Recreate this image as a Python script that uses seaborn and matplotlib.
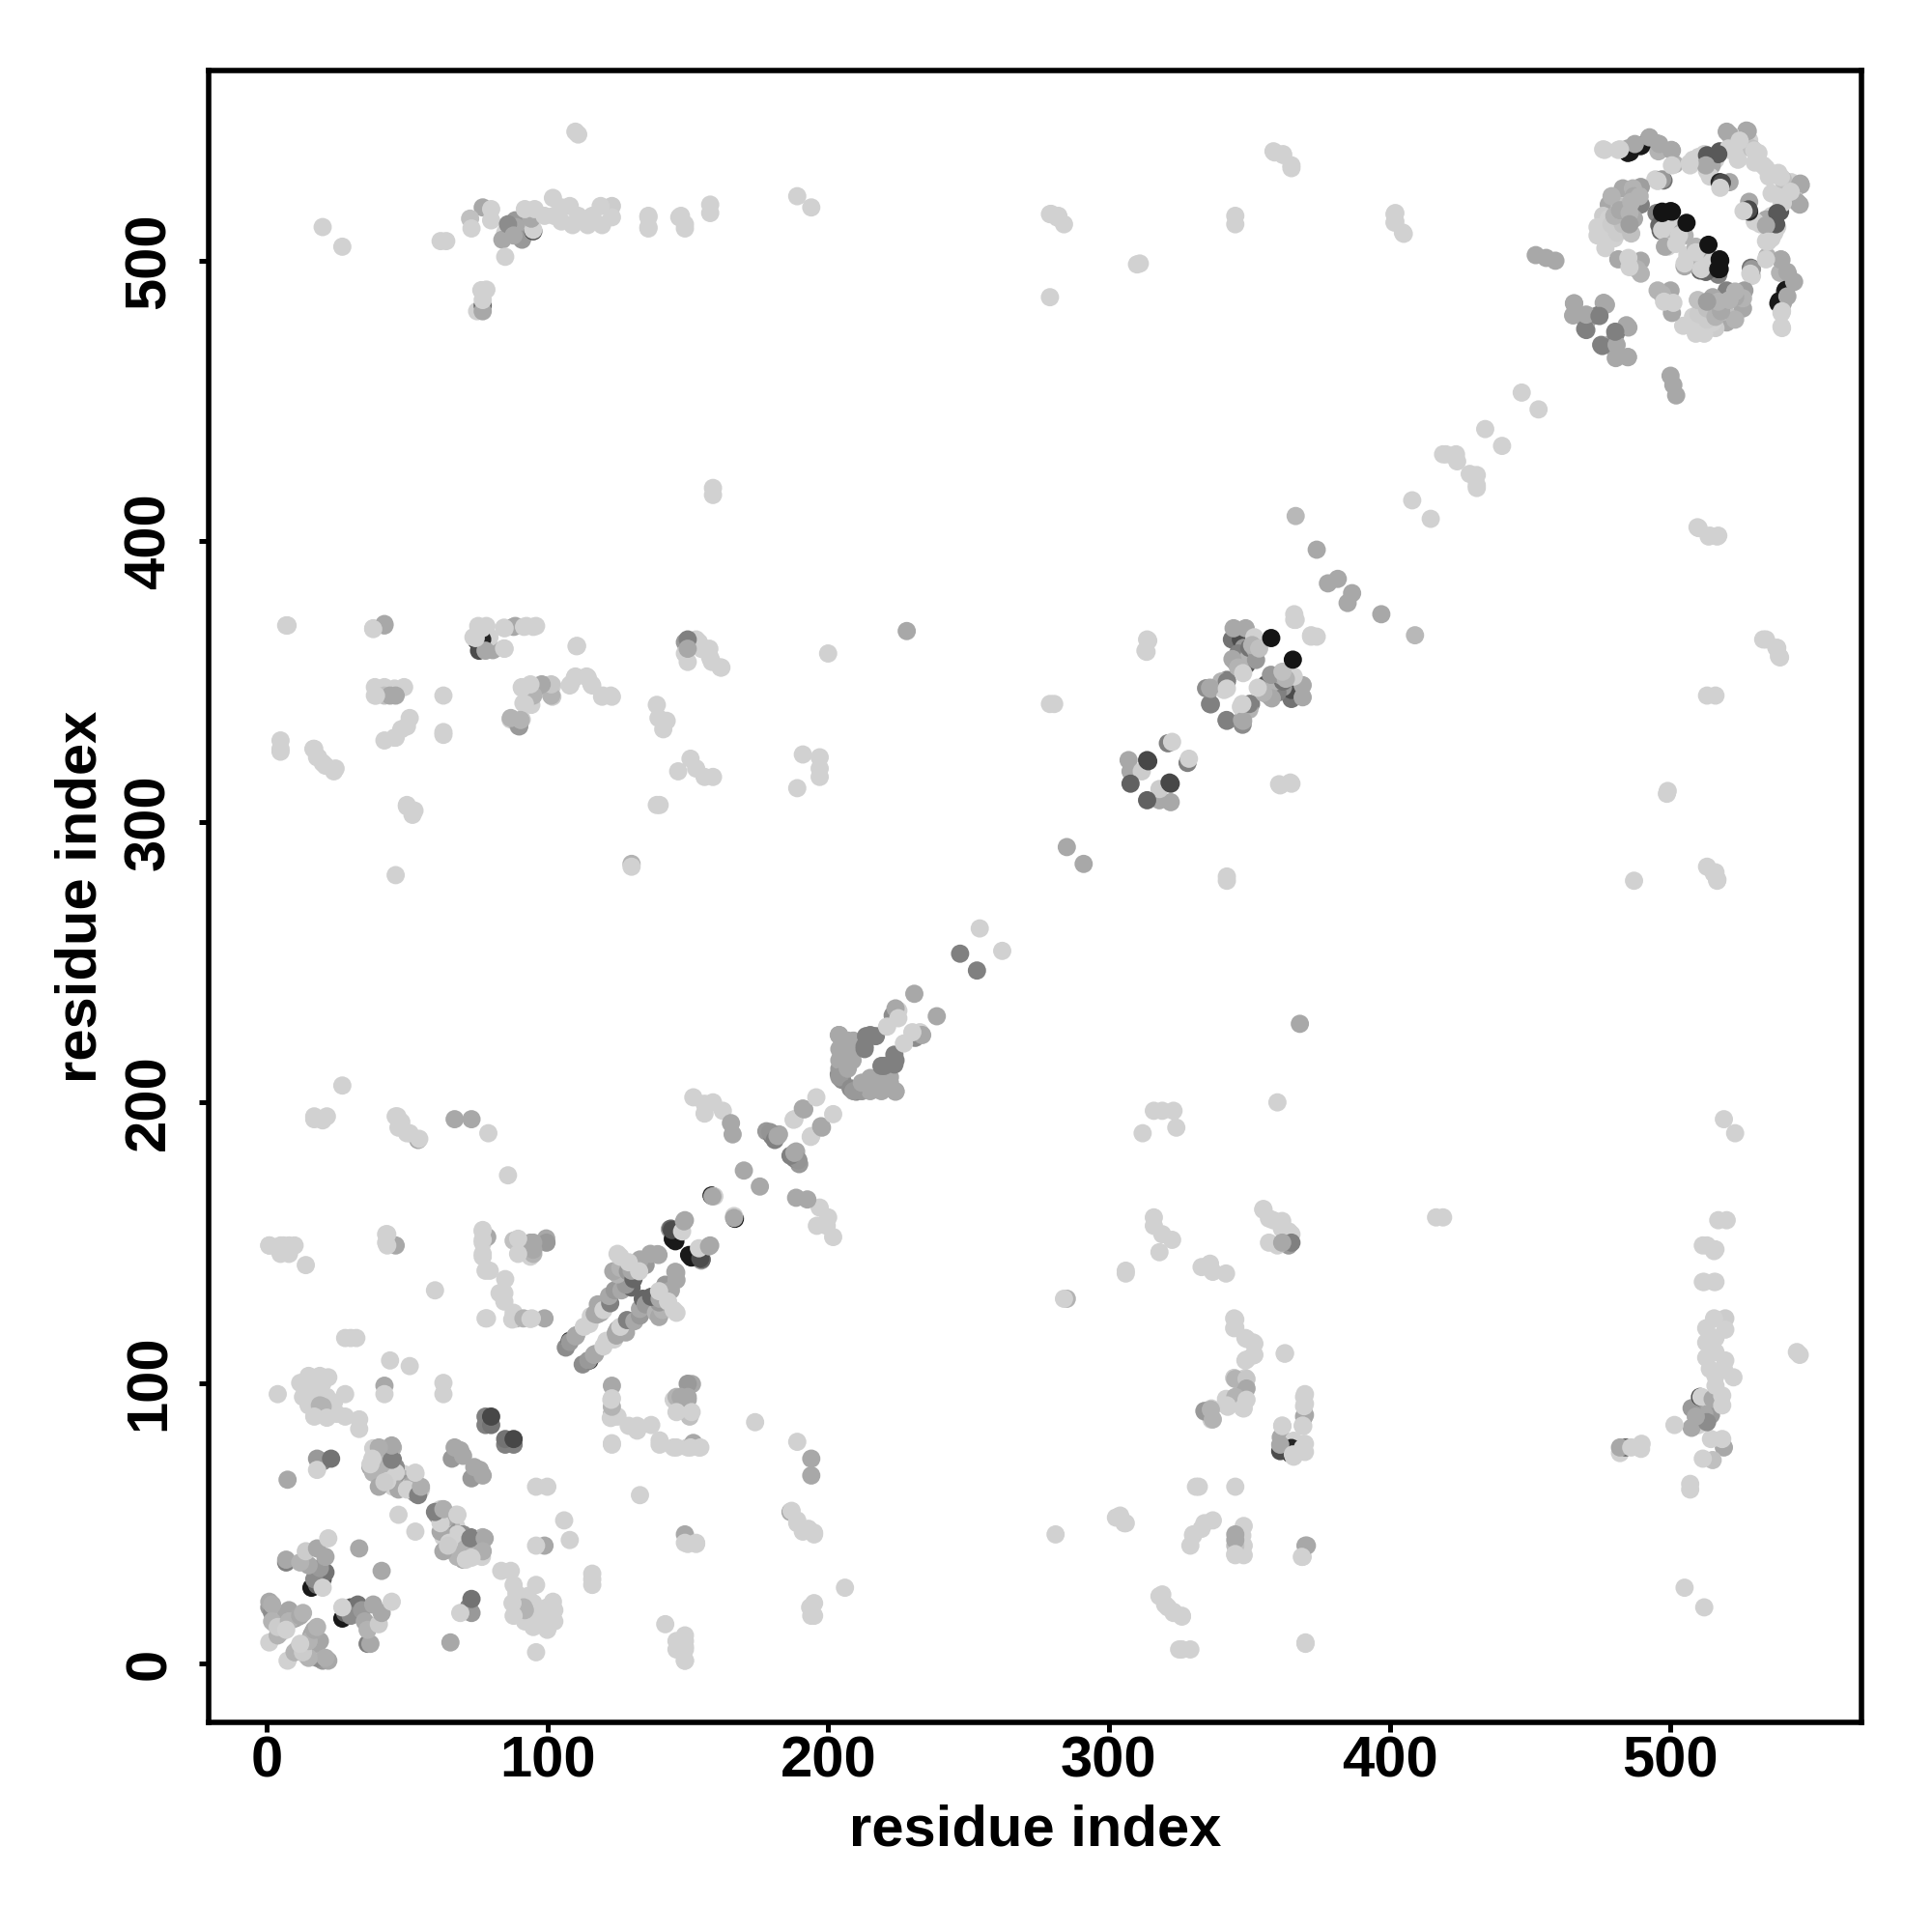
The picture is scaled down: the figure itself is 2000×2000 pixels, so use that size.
import pandas as pd
import matplotlib
matplotlib.use("Agg")
import matplotlib.pyplot as plt
import seaborn as sns

# contacts as (residue i, residue j, grey level), i < j, the map is symmetric
block_n_local = [
    (2, 19, .6), (3, 17, .65), (1, 20, .6), (2, 18, .55), (4, 18, .7), (1, 22, .66), (3, 16, .7),
    (3, 14, .8), (5, 15, .6), (5, 15, .75), (6, 13, .7), (6, 12, .7), (7, 17, .65), (9, 17, .7),
    (10, 16, .62), (8, 19, .65), (11, 16.5, .66), (1, 7.5, .82), (5, 11, .75), (4, 10, .7), (2, 21, .68),
    (2, 15, .7), (4, 13, .8), (8, 15, .7), (12, 17, .66), (13, 18, .7), (7, 12, .82),
    (16, 27, .1), (20, 30, .35), (18, 28, .4), (21, 32.5, .45), (17, 30, .55), (19, 34, .6), (15, 35, .66),
    (7, 36, .5), (7, 37, .66), (12, 36, .7), (14, 40, .8), (18, 41, .66), (21, 38, .66), (22, 44.6, .82),
    (20, 27, .82), (33, 41, .66), (7.5, 65.5, .66), (20, 72, .5), (18, 73, .6), (18, 69, .82), (23, 73, .45),
    (4, 96, .82), (42, 99, .66), (42, 96, .82), (51, 106, .82), (44, 108, .82), (32, 116, .82), (28, 116, .82),
    (30, 116, .82), (63, 96, .82), (63, 100, .82), (60, 133, .82), (14, 142, .82),
]
block_n_upper = [
    (15, 102.5, .82), (19, 102.5, .82), (22, 102, .82), (14, 97, .82), (17.5, 94, .82), (21.5, 95, .82),
    (12, 100, .82), (13, 95, .82), (17, 100, .82), (15, 92, .82), (18, 97, .82), (20, 100, .82), (19, 92, .7),
    (23, 90, .82), (24, 93, .82), (25, 89, .82),
    (20, 91.6, .7), (28, 96, .82), (21.5, 87.6, .82), (28, 88, .82), (33, 87, .82), (33, 83.6, .82), (17, 88, .82),
    (45, 72.7, .5), (38, 76.7, .82), (40.5, 76.7, .68), (45, 77, .68), (38, 72, .82), (40.5, 66.4, .66),
    (44, 66.4, .7), (49, 67.5, .82), (53, 67.5, .82), (48.5, 63, .7), (53, 60.7, .6), (55, 62, .82),
    (42, 70, .66), (40, 68, .68), (46, 70, .55), (48, 66, .7), (50, 64, .6), (51, 63, .82), (44, 70, .7),
    (46, 68, .82), (52, 64, .66), (54, 62, .7), (41, 71, .7), (45, 63, .82), (47, 62, .66), (50, 62, .82),
    (40, 67, .7), (43, 65, .82), (39, 70, .7), (37, 70, .66), (38, 68, .7), (37, 71, .82),
    (40, 63, .66), (47, 53, .82), (44.6, 72.6, .5), (44.6, 77.7, .66), (40, 77, .68), (37.7, 73, .82),
    (42, 64.6, .8), (54, 60, .5), (55, 63, .68), (53, 68, .82), (66, 73, .6), (67, 77, .66), (69, 76, .66),
    (70, 74, .66), (78, 88, .5), (78, 85, .5), (80, 85, .45), (80, 88, .28),
]
block_n_far = [
    (99, 123, .66), (94.5, 123, .82), (89, 123, .7), (88, 125, .82), (78, 123, .82),
    (84.7, 129, .82), (84.7, 132, .82), (85, 137, .82), (78, 140, .82), (77, 145, .82), (77, 150, .82),
    (77, 154, .82), (79.5, 140, .82), (83, 132, .82), (78.5, 123, .82),
    (87.5, 122.6, .82), (91.5, 123, .7), (94, 122.8, .82), (88, 150.7, .75), (94, 150, .66), (99.6, 151.5, .66),
    (94, 145, .82), (78, 152, .66), (1, 149, .82), (6, 149, .82), (8, 147.6, .82), (10, 149, .82),
    (42.6, 153, .82), (42.6, 150, .82), (46, 149, .66), (95, 146, .7), (99.7, 150, .6), (95, 147.5, .66),
    (95, 150, .66), (89.6, 151.4, .82), (89.6, 146, .82), (78.6, 152, .66), (77, 146, .82), (77, 151, .82),
    (77, 154.5, .82), (86, 174, .82), (79, 189, .82), (73, 194, .66), (67, 194, .66), (54, 186.6, .66),
    (50, 189, .82), (47, 191, .82), (46.6, 195, .82), (20, 193.6, .82), (17, 194, .82), (27, 206, .82),
    (43, 153, .82), (43, 149, .82), (8, 146, .82), (8, 149, .82), (5, 146, .82), (1, 149, .82), (5, 149, .82),
]
strand_100_160 = [
    (106.6, 112.6, .55), (108, 115, .2), (108, 114.6, .6), (110, 116.6, .66), (110.3, 117, .66), (115, 121, .82),
    (113, 120, .82), (119, 125, .66), (115.5, 123.8, .82), (116.9, 124.6, .66), (117.8, 124.4, .66), (118, 128, .66),
    (120, 126, .82), (122.4, 128.4, .5), (122, 131, .66), (124, 133, .6), (126.4, 133, .66),
    (130, 134, .4), (127, 141, .55), (128, 135, .6), (125, 138.7, .7), (125, 146, .82), (123.5, 139.8, .66),
    (126, 141, .7), (128.7, 139.8, .6), (130.7, 137, .4), (130, 140, .66), (135, 142, .6), (133, 144, .66),
    (132, 141, .66), (129, 143, .82), (132.7, 139.8, .82), (136.7, 146, .66), (139.6, 145.6, .66), (139.3, 145.9, .66),
    (126, 145, .82), (143.6, 154.8, .66), (144, 155, .4), (144.7, 151.3, .1), (145.6, 150.5, .1),
    (144.4, 154.5, .3), (148, 154, .82), (148.7, 157.6, .66), (149, 158, .66), (158.5, 166.8, .1),
    (159.5, 166.5, .82), (158.8, 166.5, .66), (170, 175.7, .66),
]
strand_150_240 = [
    (152, 201.8, .82), (156, 199.5, .82), (159, 200, .82), (162.5, 197, .82), (156, 196, .82), (165.4, 192.6, .66),
    (166, 188.6, .66), (178, 189.7, .6), (180, 188, .5), (182.5, 188.6, .66), (179.4, 189.4, .58), (181, 186.6, .5),
    (182, 188, .66), (187.7, 193.8, .82), (188, 194, .82), (191, 197.8, .66), (191.5, 197.5, .66), (195.8, 201.8, .82),
    (203.8, 210, .55), (203.8, 224, .66), (204, 219, .66), (206.6, 214.4, .66), (204, 212, .6), (207, 218, .66),
    (209, 222, .66), (205, 208, .55), (204, 224, .66), (204, 215, .66), (204, 209, .6), (208.7, 215, .66),
    (207, 222, .66), (205, 216, .66), (209, 218, .66), (207, 212, .66),
    (213.5, 223.6, .5), (217, 223.6, .5), (213, 220, .5), (215, 224, .5), (213, 219, .5),
    (223, 231, .55), (225, 232.7, .82), (221, 227, .82), (224, 233.5, .66), (225, 230, .82), (230.7, 238.7, .66),
    (247, 253, .5), (254, 262, .82), (285, 291, .66),
]
far_n_c = [
    (20, 512, .82), (27, 505, .82), (62, 507, .82), (64, 507, .82), (77, 519, .66), (72.5, 515, .75), (73, 511.5, .82),
    (80, 518.4, .82), (80, 514.4, .82), (85, 510, .82), (88.6, 514.4, .6), (84, 507.5, .66), (89, 512, .66), (91, 507.5, .6),
    (86, 513, .55), (88, 509, .66), (95, 510.5, .3), (95, 511, .82), (94.3, 515, .66), (92, 518.4, .82), (95.5, 518.4, .82),
    (99, 516, .82), (102, 522.4, .82), (102.4, 516, .82), (105, 519, .82), (108, 519.5, .82), (105, 514, .82), (109, 512.7, .82),
    (111, 516, .82), (114.4, 512.7, .82), (119.5, 512.7, .82), (116, 516, .82), (123, 519.5, .8), (123, 515.5, .82),
    (119, 519.5, .82), (85, 501.4, .82), (136, 515.5, .82), (136, 511.5, .82), (147, 515.5, .82), (149, 511.5, .82),
    (158, 520, .82), (158, 517, .82), (189, 523, .82), (194, 519, .82), (110, 546, .82), (111, 545, .82),
    (75, 482, .82), (77, 484, .4), (77, 482, .66), (77, 486, .82), (78.3, 489.7, .82), (76.5, 489.5, .82),
    (279, 516.6, .82), (282, 516, .82), (284, 513, .82), (279, 487, .82), (311, 499, .82), (345, 516, .82),
    (345, 513, .82), (358.6, 539, .82), (362, 538, .82), (365, 534, .82), (401.7, 516.6, .82), (401.7, 513.6, .82),
    (404.7, 510, .82), (310, 498.7, .82), (281.6, 515.4, .82), (279.4, 516.7, .82),
    (405, 509.6, .82), (402, 514, .82), (402, 517, .82), (365, 533, .82), (362, 537.7, .82), (359, 538.6, .82),
    (149, 513, .82), (147.6, 516, .82), (136, 512, .82), (136, 516, .82),
]
far_n_mid = [
    (7, 370, .82), (38, 369, .82), (42, 370, .66), (38.6, 348, .82), (38.6, 345, .82), (42, 348, .82), (45.6, 347.5, .82),
    (49, 348, .82), (42, 345, .75), (46, 345, .66), (50, 334, .82), (51, 337, .82), (48, 333, .82), (45.6, 330, .82),
    (42, 329, .82), (63, 345, .82), (63, 332, .82), (5, 329, .82), (5, 326, .82), (16.7, 326, .82), (18.4, 323, .82),
    (21, 320, .82), (24.6, 319, .82), (20, 321, .82), (50, 306, .82), (52.7, 304, .82), (46, 281, .82),
    (76.5, 361.8, .15), (74.8, 364.6, .2), (77.7, 363.5, .66), (80.6, 361.2, .66), (75.4, 369.8, .82), (78.3, 369.8, .82),
    (73.7, 365.8, .82), (79.4, 365.8, .82), (84.6, 361.8, .82), (84.6, 369.2, .82), (88.6, 369.8, .66), (92.6, 369.8, .82),
    (96, 369.8, .82), (110.4, 362.6, .82),
    (90.9, 348, .82), (94.3, 348, .82), (98.9, 348.6, .6), (101.8, 348.6, .82), (94.3, 344, .7), (101.8, 344.6, .8),
    (91.5, 342.3, .82), (94.3, 341.7, .82), (86.9, 336.5, .82), (89.7, 334.2, .7), (90.9, 336.5, .82), (108, 348.6, .82),
    (109.8, 351.4, .82), (114.4, 351.4, .82), (116, 348.6, .82), (119.5, 344.6, .82), (123, 344.6, .82),
    (139, 341.7, .82), (139.6, 337, .82), (142.5, 336, .82), (141.3, 333, .82),
    (149, 364, .6), (149, 360, .82), (153, 365, .82), (155, 361.6, .82), (158, 358.5, .82), (162, 355, .82), (200, 360, .82),
    (146.6, 318, .82), (151, 322.5, .82), (153, 319, .82), (156, 316, .82), (159, 316, .82), (139, 306, .82), (140, 306, .82),
    (189, 312, .82), (191, 324, .82), (197, 323, .82), (197, 319, .82), (197, 316, .82), (130, 285, .7), (130, 284, .82),
    (159, 419, .82), (159, 416.5, .82), (228, 368, .66), (17, 195, .82), (21.5, 195, .82), (46, 195, .82), (48, 193, .82),
    (51, 189, .82), (54.4, 187, .82),
    (122.6, 345, .82), (119.8, 345, .82), (115.7, 349, .82), (114, 351.8, .82), (110, 351.8, .82), (108.3, 349, .82),
    (110.6, 362.7, .82), (101.4, 345, .7), (101.4, 349, .78), (98, 349, .66), (95, 345, .7), (94, 349, .82), (92, 342, .82),
    (91, 347.7, .82), (90, 334, .6), (90.5, 336.3, .7), (87, 337, .7),
    (75.7, 361, .3), (76.8, 365, .15), (78, 361, .66), (76.8, 369, .82), (74.5, 365.5, .82), (88, 369.5, .66),
    (95, 369.5, .82), (91.7, 369.5, .82), (84.8, 369, .82), (84.8, 361.7, .82), (42, 370.5, .66), (38, 368.7, .82),
    (7.5, 370, .82), (63, 331, .82), (46, 330, .82), (44, 345, .66), (39, 345, .82),
    (52, 302.5, .82), (50, 305.5, .82), (24, 318, .82), (18, 323, .82), (17, 326, .82), (5, 325, .82),
    (161.7, 355, .82), (158.6, 357, .82), (157.7, 361.7, .82), (154, 364, .82), (150, 365, .5), (150, 357, .82), (150, 361.7, .66),
    (280.5, 342, .82), (279, 342, .82), (313, 361, .82), (313.6, 365, .82), (314, 364.6, .82), (313.4, 360.6, .82),
    (366.5, 409, .72),
]
domain_300_370 = [
    (321, 328, .5), (322.5, 328.5, .82), (307, 322, .66), (307.7, 318, .66), (311.7, 318, .8), (307.7, 313.6, .38),
    (314, 321.6, .28), (313.6, 322, .28),
    (336, 342, .5), (336.3, 341.9, .5), (334.6, 347.6, .55), (336.3, 347.4, .66), (342, 350.6, .5), (341, 347, .82),
    (343.8, 365, .45), (347, 365, .3), (349, 356, .35), (347.2, 357, .55), (344.4, 369, .66), (348.7, 369, .66),
    (340, 350, .7), (345, 357, .66), (348, 362, .6), (346, 360, .5), (350, 359, .7), (350, 362, .45), (344, 358, .66),
    (351.8, 365.8, .82), (352, 361.6, .66), (352.4, 357.7, .6), (351, 363, .7), (353.5, 361.8, .75), (346, 355, .7), (347.8, 353, .82),
    (342, 350, .5), (336, 347.8, .66), (342, 347.5, .82),
    (366, 374, .82), (366.5, 372, .82), (366, 372, .82), (374, 397, .66), (378, 385, .66), (381.5, 386.6, .66),
    (408, 414.6, .82), (419, 431, .82), (423.6, 431, .82), (424, 428.5, .82), (420, 431, .82), (434, 440, .82), (447, 453, .82),
]
domain_c = [
    (484.8, 538.4, .1), (489, 540.7, .5), (476.5, 539.5, .82), (481.4, 539.5, .82), (484.8, 540, .66), (492.3, 543.5, .66),
    (495.2, 541.8, .6), (495.7, 539, .7), (500.3, 539.5, .66), (501.5, 534.4, .7), (497.5, 528.6, .45), (494.6, 529, .82),
    (489.4, 526.3, .62), (483, 525.8, .66), (486.6, 525.8, .7), (489.4, 520, .5), (485.4, 520, .7), (478, 520, .66),
    (476, 516, .8), (474, 512, .82), (474, 509, .82), (476.8, 504.5, .82), (480, 508, .82), (477, 511, .82), (478, 515, .82),
    (484, 511, .8), (481, 510, .8), (479, 513, .8), (483, 513, .75), (480, 516, .7), (483, 517, .7), (482, 519.4, .75),
    (479, 523, .7), (482, 518, .66), (487, 523, .66), (489, 523, .7), (486, 521, .7), (486, 509.7, .75),
    (487, 515, .66), (485.4, 517, .7), (485.4, 513, .62), (481.4, 500.5, .66), (489.4, 500, .66), (489.4, 495.4, .7),
    (488, 497, .7), (485, 501, .82), (485.4, 497.7, .82),
    (489.6, 541, .1), (485.6, 538.7, .1), (496, 541.6, .66), (492.5, 544, .66), (487.3, 541.6, .66), (500.5, 539.3, .66),
    (497, 529, .6), (495.4, 528.4, .82), (500.5, 534, .82), (476, 539.7, .82), (482, 539.7, .82),
    (514.7, 537, .3), (517.5, 539, .35), (507, 534, .82), (510, 537, .82), (521, 539.5, .82), (520, 546, .66), (527, 546.4, .66),
    (508, 536, .82), (512, 538, .82), (516, 536, .82), (511, 536, .82), (513, 532, .82), (524, 536, .82), (525, 540, .82),
    (528, 543, .82), (530, 535, .82), (533, 534, .82),
    (524.4, 543.5, .82), (529, 540, .75), (531.3, 538.4, .82), (514.7, 534, .66), (514, 530, .82), (517.5, 528, .15), (521, 528, .66),
    (531, 536.4, .82), (529.8, 539.3, .82), (527.5, 546.2, .66), (521, 545, .66), (524.6, 542.8, .82), (520.6, 540, .82),
    (517, 538, .35), (513, 537.6, .35), (518.3, 527.8, .3), (517.7, 526, .82), (512.6, 534, .66), (506.8, 534.7, .82),
    (465.7, 484.8, .66), (465.3, 480.5, .66), (470, 475.3, .5), (470, 478, .66), (476.2, 485, .66), (474, 480.5, .5),
    (469.6, 475.7, .5), (470, 480.8, .66), (465.6, 484.8, .66), (477, 484.3, .66), (474.7, 480.3, .5),
    (452, 502, .66), (455.7, 501, .66), (459, 500, .66),
]
domain_c_core = [
    (495, 517, .5), (496.5, 510.6, .4), (496, 512.6, .4), (498, 510, .7), (497, 511, .82), (501.5, 513, .82),
    (499, 505, .82), (504, 510, .66), (505, 509, .7), (503, 509, .82), (505, 498, .66), (506, 502, .82),
]
dark_top = [
    (497, 517, .1), (500, 517.7, .1), (497, 517.5, .08), (500.5, 517.5, .08),
    (505.7, 513.5, .08), (357.8, 365.5, .08),
]

ticks = [0, 100, 200, 300, 400, 500]
axis_label = "residue index"

contacts = block_n_local + block_n_upper + block_n_far + strand_100_160 + strand_150_240 \
    + far_n_c + far_n_mid + domain_300_370 + domain_c + domain_c_core
df = pd.DataFrame(contacts, columns=["i", "j", "shade"])
top = pd.DataFrame(dark_top, columns=["i", "j", "shade"])
df = pd.concat([df, df.rename(columns={"i": "j", "j": "i"}), top, top.rename(columns={"i": "j", "j": "i"})],
               ignore_index=True)

sns.set_style("white")
plt.rcParams["font.family"] = ["Liberation Sans", "DejaVu Sans"]
plt.rcParams["font.weight"] = "bold"
plt.rcParams["text.color"] = "black"
plt.rcParams["axes.labelcolor"] = "black"
plt.rcParams["xtick.color"] = "black"
plt.rcParams["ytick.color"] = "black"

fig = plt.figure(figsize=(20, 20), dpi=100)
ax = fig.add_axes([0.108, 0.1085, 0.8555, 0.855])

sns.scatterplot(data=df, x="i", y="j", hue="shade", palette="gray", hue_norm=(0, 1),
                s=185, linewidth=0, legend=False, ax=ax)

ax.set_xlim(-20.6, 568)
ax.set_ylim(-21, 567.8)
ax.set_xticks(ticks)
ax.set_yticks(ticks)
ax.tick_params(axis="x", length=7, width=3.6, labelsize=43, bottom=True, pad=2.5)
ax.tick_params(axis="y", length=7, width=3.6, labelsize=43, left=True, pad=17)
plt.setp(ax.get_yticklabels(), rotation=90, va="center")
ax.set_xlabel(axis_label, fontsize=43, fontweight="bold", labelpad=12)
ax.set_ylabel(axis_label, fontsize=43, fontweight="bold", labelpad=12)

for side in ax.spines.values():
    side.set_visible(True)
    side.set_linewidth(4)
    side.set_color("black")

fig.savefig("out.png", dpi=100)
